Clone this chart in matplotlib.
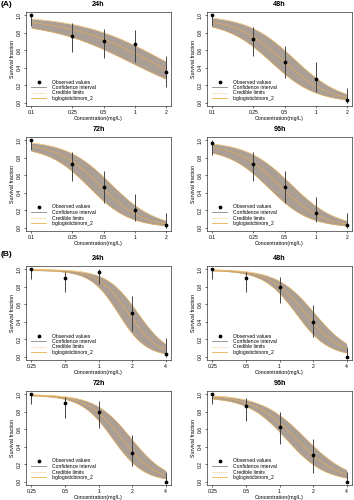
import numpy as np
import matplotlib
matplotlib.use('Agg')
import matplotlib.pyplot as plt
from matplotlib.lines import Line2D

plt.rcParams['font.family'] = ['Liberation Sans', 'DejaVu Sans']

# concentrations (mg/L)
conc_a = [0.1, 0.25, 0.5, 1, 2]
conc_b = [0.25, 0.5, 1, 2, 4]
times = ['24h', '48h', '72h', '96h']

# observed survival fraction and error bar limits, panel (A)
obs_a = [[1.0, 0.77, 0.71, 0.67, 0.345],
         [1.0, 0.73, 0.46, 0.27, 0.03],
         [1.0, 0.73, 0.47, 0.20, 0.03],
         [0.97, 0.73, 0.46, 0.17, 0.03]]
lo_a = [[0.88, 0.58, 0.51, 0.47, 0.18],
        [0.88, 0.54, 0.28, 0.12, 0.0],
        [0.89, 0.54, 0.28, 0.08, 0.0],
        [0.83, 0.54, 0.28, 0.06, 0.0]]
hi_a = [[1.0, 0.91, 0.85, 0.83, 0.53],
        [1.0, 0.87, 0.65, 0.46, 0.17],
        [1.0, 0.87, 0.65, 0.38, 0.17],
        [1.0, 0.87, 0.65, 0.35, 0.17]]

# panel (B)
obs_b = [[1.0, 0.90, 0.97, 0.50, 0.03],
         [1.0, 0.90, 0.80, 0.40, 0.0],
         [1.0, 0.90, 0.80, 0.33, 0.0],
         [1.0, 0.87, 0.63, 0.30, 0.0]]
lo_b = [[0.89, 0.74, 0.83, 0.29, 0.0],
        [0.89, 0.74, 0.62, 0.22, 0.0],
        [0.89, 0.73, 0.62, 0.18, 0.0],
        [0.89, 0.69, 0.43, 0.10, 0.0]]
hi_b = [[1.0, 0.97, 1.0, 0.70, 0.21],
        [1.0, 0.97, 0.91, 0.59, 0.11],
        [1.0, 0.97, 0.92, 0.53, 0.11],
        [1.0, 0.96, 0.80, 0.49, 0.11]]

# fitted loglogistic parameters (d, e, b): median, lower, upper
fit_a = [[(0.97, 1.35, 1.1), (0.93, 0.9, 1.1), (1.0, 1.8, 1.1)],
         [(0.97, 0.48, 1.9), (0.93, 0.37, 2.0), (1.0, 0.62, 1.9)],
         [(0.97, 0.46, 2.1), (0.93, 0.36, 2.2), (1.0, 0.59, 2.0)],
         [(0.96, 0.45, 2.1), (0.91, 0.35, 2.2), (0.99, 0.58, 2.0)]]
fit_b = [[(1.0, 1.85, 3.2), (0.99, 1.5, 3.5), (1.0, 2.25, 3.1)],
         [(1.0, 1.7, 2.7), (0.99, 1.4, 3.0), (1.0, 2.05, 2.6)],
         [(1.0, 1.6, 2.8), (0.99, 1.33, 3.1), (1.0, 1.95, 2.7)],
         [(0.99, 1.4, 2.3), (0.97, 1.15, 2.5), (1.0, 1.7, 2.2)]]

band_col = '#ab9e94'
orange = '#eeb04a'


def loglogistic(x, p):
    d, e, b = p
    return d / (1 + (x / e) ** b)


W, H = 354, 500
fig = plt.figure(figsize=(W / 100, H / 100), dpi=100)


def panel(left, top, conc, obs, lo, hi, fit, title):
    right = left + 145
    bottom = top + 94
    ax = fig.add_axes([left / W, 1 - bottom / H, (right - left) / W, (bottom - top) / H])
    xs = np.exp(np.linspace(np.log(conc[0]), np.log(conc[-1]), 200))
    med, low, upp = fit
    ax.fill_between(xs, loglogistic(xs, low), loglogistic(xs, upp), color=band_col, lw=0)
    ax.plot(xs, loglogistic(xs, low), color=orange, lw=0.4)
    ax.plot(xs, loglogistic(xs, upp), color=orange, lw=0.4)
    ax.plot(xs, loglogistic(xs, med), color=orange, lw=0.4)
    ax.vlines(conc, lo, hi, color='#444444', lw=0.7)
    ax.plot(conc, obs, 'o', color='black', ms=1.7)
    ax.set_xscale('log')
    lx = np.log10(conc[0]); rx = np.log10(conc[-1])
    pad = (rx - lx) * 0.04
    ax.set_xlim(10 ** (lx - pad), 10 ** (rx + pad))
    ax.set_ylim(-0.04, 1.04)
    ax.set_xticks(conc)
    ax.set_xticklabels([('%g' % c) for c in conc])
    ax.minorticks_off()
    ax.set_yticks([0, 0.2, 0.4, 0.6, 0.8, 1.0])
    ax.set_yticklabels(['0.0', '0.2', '0.4', '0.6', '0.8', '1.0'], rotation=90, va='center')
    ax.tick_params(labelsize=3.6, length=1.5, width=0.4, pad=1.5)
    for s in ax.spines.values():
        s.set_linewidth(0.4)
    ax.set_xlabel('Concentration(mg/L)', fontsize=3.8, labelpad=0.5)
    ax.set_ylabel('Survival fraction', fontsize=3.8, labelpad=1)
    ax.set_title(title, fontsize=5.2, fontweight='bold', pad=4)
    handles = [Line2D([], [], ls='none', marker='o', color='black', ms=1.7),
               Line2D([], [], color='#888888', lw=0.6),
               Line2D([], [], color=orange, lw=0.6, ls=':'),
               Line2D([], [], color=orange, lw=0.6)]
    ax.legend(handles, ['Observed values', 'Confidence interval', 'Credible limits',
                        'loglogisticbinom_2'],
              loc='lower left', frameon=False, fontsize=3.6, handlelength=3,
              labelspacing=0.1, borderaxespad=0.6, handletextpad=1.2)
    return ax


lefts = [26, 207, 26, 207]
tops_a = [12, 12, 137, 137]
tops_b = [266, 266, 391, 391]

for i in range(4):
    panel(lefts[i], tops_a[i], conc_a, obs_a[i], lo_a[i], hi_a[i], fit_a[i], times[i])
    panel(lefts[i], tops_b[i], conc_b, obs_b[i], lo_b[i], hi_b[i], fit_b[i], times[i])

fig.text(1 / W, 1 - 5 / H, '(A)', fontsize=6, fontweight='bold', va='center')
fig.text(1 / W, 1 - 255 / H, '(B)', fontsize=6, fontweight='bold', va='center')

fig.savefig('out.png', dpi=100)
